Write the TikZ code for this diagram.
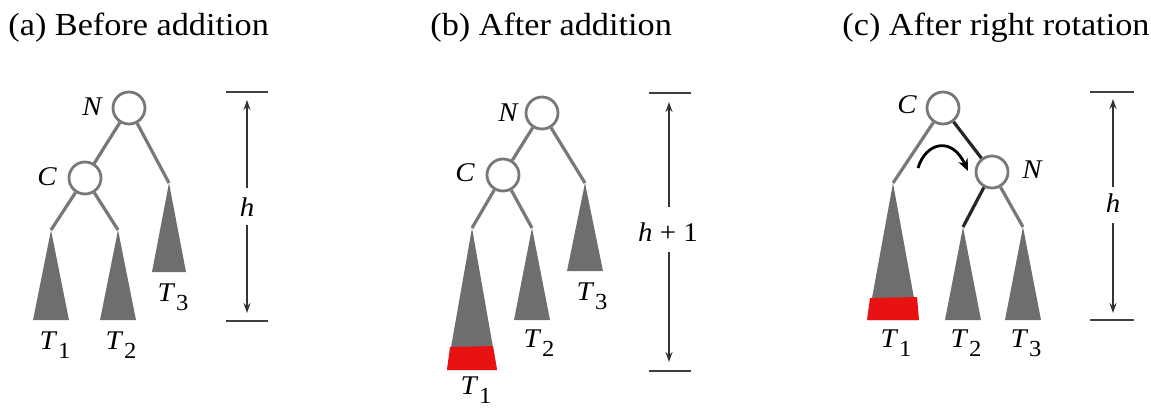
\documentclass[tikz,border=0pt]{standalone}
\usepackage{fontspec}
\setmainfont[FakeStretch=1.07]{Liberation Serif}
\usetikzlibrary{arrows.meta, positioning}
\definecolor{treegray}{RGB}{120,120,120}
\definecolor{treefill}{RGB}{110,110,110}
\definecolor{addred}{RGB}{232,18,18}
\tikzset{
  vtx/.style={circle, draw=treegray, fill=white, line width=1.4pt,
              minimum size=16pt, inner sep=0pt},
  edge/.style={draw=treegray, line width=1.6pt},
  newedge/.style={draw=black!85, line width=1.6pt},
  sub/.style={fill=treefill},
  addpart/.style={fill=addred},
  vlabel/.style={font=\fontsize{13.5}{13.5}\selectfont\itshape, inner sep=0pt},
  tlabel/.style={font=\fontsize{13.5}{13.5}\selectfont, inner sep=0pt},
  title/.style={font=\fontsize{16}{19}\selectfont, inner sep=0pt, anchor=base west},
  bar/.style={line width=1pt, draw=black!75},
  harrow/.style={-{Stealth[length=5pt,width=3.5pt]}, line width=0.7pt, draw=black!80},
  rotarrow/.style={-{Stealth[length=6pt,width=5pt]}, line width=1.4pt},
}
\newcommand{\Tsub}[1]{\textit{T}\kern0.3pt\raisebox{-4.5pt}{\fontsize{11.5}{11.5}\selectfont #1}}

\begin{document}
\begin{tikzpicture}[x=0.5pt, y=-0.5pt]
  \useasboundingbox (0,0) rectangle (1151,413);

  % (a) before addition
  \node[title] (ta) at (8,35) {(a) Before addition};
  \node[vtx] (aN) at (129,108) {};
  \node[vtx] (aC) at (85,178) {};
  \node[vlabel] at (92,107) {N};
  \node[vlabel] at (47,177) {C};
  \coordinate (a1) at (51,230);
  \coordinate (a2) at (118,230);
  \coordinate (a3) at (169,183);
  \draw[edge] (aN) -- (aC);
  \draw[edge] (aN) -- (a3);
  \draw[edge] (aC) -- (a1);
  \draw[edge] (aC) -- (a2);
  \fill[sub] (a1) -- ++(-18,90) -- ++(36,0) -- cycle;
  \fill[sub] (a2) -- ++(-18,90) -- ++(36,0) -- cycle;
  \fill[sub] (a3) -- ++(-17,89) -- ++(34,0) -- cycle;
  \node[tlabel] at (55,345) {\Tsub{1}};
  \node[tlabel] at (121,345) {\Tsub{2}};
  \node[tlabel] at (173,297) {\Tsub{3}};
  \coordinate (aht) at (247,92);
  \coordinate (ahb) at (247,321);
  \draw[bar] (aht) +(-21,0) -- +(21,0);
  \draw[bar] (ahb) +(-21,0) -- +(21,0);
  \node[vlabel] (ah) at (247,207) {h};
  \draw[harrow] (247,188) -- (247,100);
  \draw[harrow] (247,225) -- (247,313);

  % (b) after addition
  \node[title] (tb) at (430,35) {(b) After addition};
  \node[vtx] (bN) at (542,113) {};
  \node[vtx] (bC) at (503,175) {};
  \node[vlabel] at (508,113) {N};
  \node[vlabel] at (465,173) {C};
  \coordinate (b1) at (472,228);
  \coordinate (b2) at (532,228);
  \coordinate (b3) at (585,183);
  \draw[edge] (bN) -- (bC);
  \draw[edge] (bN) -- (b3);
  \draw[edge] (bC) -- (b1);
  \draw[edge] (bC) -- (b2);
  \fill[sub] (b1) -- ++(-25,142) -- ++(50,0) -- cycle;
  \fill[sub] (b2) -- ++(-18,92) -- ++(36,0) -- cycle;
  \fill[sub] (b3) -- ++(-18,88) -- ++(36,0) -- cycle;
  \fill[addpart] (450,347) -- (493,346) -- (497,370) -- (447,370) -- cycle;
  \node[tlabel] at (476,390) {\Tsub{1}};
  \node[tlabel] at (539,343) {\Tsub{2}};
  \node[tlabel] at (592,296) {\Tsub{3}};
  \coordinate (bht) at (670,93);
  \coordinate (bhb) at (670,371);
  \draw[bar] (bht) +(-21,0) -- +(21,0);
  \draw[bar] (bhb) +(-21,0) -- +(21,0);
  \node[tlabel] (bh) at (668,232) {\textit{h} + 1};
  \draw[harrow] (669,207) -- (669,102);
  \draw[harrow] (669,252) -- (669,362);

  % (c) after right rotation
  \node[title] (tc) at (842,35) {(c) After right rotation};
  \node[vtx] (cC) at (943,108) {};
  \node[vtx] (cN) at (992,172) {};
  \node[vlabel] at (907,105) {C};
  \node[vlabel] at (1032,170) {N};
  \coordinate (c1) at (893,183);
  \coordinate (c2) at (963,227);
  \coordinate (c3) at (1023,227);
  \draw[edge] (cC) -- (c1);
  \draw[newedge] (cC) -- (cN);
  \draw[newedge] (cN) -- (c2);
  \draw[edge] (cN) -- (c3);
  \fill[sub] (c1) -- ++(-25,137) -- ++(50,0) -- cycle;
  \fill[sub] (c2) -- ++(-18,93) -- ++(36,0) -- cycle;
  \fill[sub] (c3) -- ++(-18,93) -- ++(36,0) -- cycle;
  \fill[addpart] (870,298) -- (917,297) -- (919,320) -- (867,320) -- cycle;
  \coordinate (rs) at (918,168);
  \coordinate (re) at (968,171);
  \draw[rotarrow] (rs) .. controls (926,142) and (952,136) .. (re);
  \node[tlabel] at (896,343) {\Tsub{1}};
  \node[tlabel] at (966,343) {\Tsub{2}};
  \node[tlabel] at (1026,343) {\Tsub{3}};
  \coordinate (cht) at (1112,92);
  \coordinate (chb) at (1112,320);
  \draw[bar] (cht) +(-22,0) -- +(22,0);
  \draw[bar] (chb) +(-22,0) -- +(22,0);
  \node[vlabel] (ch) at (1113,203) {h};
  \draw[harrow] (1113,187) -- (1113,99);
  \draw[harrow] (1113,223) -- (1113,313);
\end{tikzpicture}
\end{document}
